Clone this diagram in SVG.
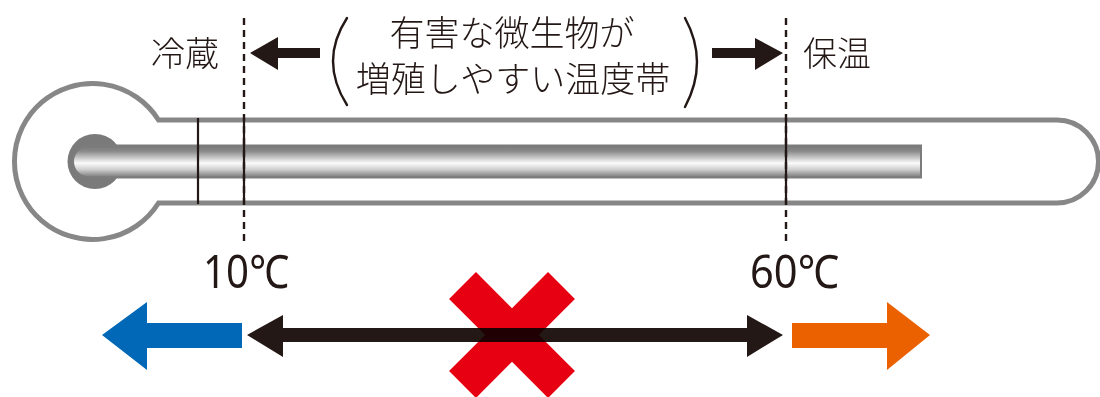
<svg xmlns="http://www.w3.org/2000/svg" width="1100" height="397" viewBox="0 0 1100 397">
  <style>
    .lbl { font-family: "Noto Sans CJK JP", "Noto Sans", sans-serif; font-weight: 300; fill: #231815; }
    .num { font-family: "Noto Sans", "Noto Sans CJK JP", sans-serif; fill: #231815; }
    .ink { fill: #231815; }
    .vline { stroke: #231815; stroke-width: 2.2; fill: none; }
    .dash { stroke-dasharray: 7 5; stroke-width: 2.4; }
    .paren { stroke: #231815; stroke-width: 2.4; fill: none; stroke-linecap: round; }
  </style>
  <defs>
    <linearGradient id="mercury" x1="0" y1="0" x2="0" y2="1">
      <stop offset="0" stop-color="#767676"/>
      <stop offset="0.18" stop-color="#8a8a8a"/>
      <stop offset="0.55" stop-color="#fbfbfb"/>
      <stop offset="0.75" stop-color="#cfcfcf"/>
      <stop offset="1" stop-color="#767676"/>
    </linearGradient>
  </defs>

  <!-- thermometer body -->
  <g id="thermometer">
    <path d="M 158.5,120 H 1057 A 41.5 41.5 0 0 1 1057,203 H 158.5 A 78 78 0 1 1 158.5,120 Z"
          fill="#ffffff" stroke="#878787" stroke-width="5"/>
    <circle cx="95" cy="161.5" r="27.5" fill="#7a7a7a"/>
    <path d="M 89,145.5 H 921 V 177.5 H 89 A 16 16 0 0 1 89,145.5 Z"
          fill="url(#mercury)" stroke="#7c7c7c" stroke-width="2"/>
    <line class="vline" x1="198" y1="118" x2="198" y2="204"/>
  </g>

  <!-- temperature boundaries -->
  <g id="boundary-10">
    <line class="vline dash" x1="244" y1="18" x2="244" y2="246"/>
    <line class="vline" x1="244" y1="118" x2="244" y2="204"/>
    <text class="num" x="203" y="288" font-size="46" textLength="86" lengthAdjust="spacingAndGlyphs">10℃</text>
  </g>
  <g id="boundary-60">
    <line class="vline dash" x1="786" y1="18" x2="786" y2="246"/>
    <line class="vline" x1="786" y1="118" x2="786" y2="204"/>
    <text class="num" x="750" y="288" font-size="46" textLength="89" lengthAdjust="spacingAndGlyphs">60℃</text>
  </g>

  <!-- zone labels -->
  <g id="label-cold">
    <text class="lbl" x="151" y="66" font-size="34">冷蔵</text>
  </g>
  <g id="label-danger">
    <path class="paren" d="M 347,18 Q 319,61 347,105"/>
    <path class="paren" d="M 685,18 Q 709,62 685,107"/>
    <text class="lbl" x="512" y="46" font-size="35" text-anchor="middle">有害な微生物が</text>
    <text class="lbl" x="513" y="92" font-size="35" text-anchor="middle">増殖しやすい温度帯</text>
  </g>
  <g id="label-warm">
    <text class="lbl" x="803" y="66" font-size="34">保温</text>
  </g>

  <!-- arrows -->
  <g id="connectors">
    <polygon class="ink" points="250,53 278,37 278,48 320,48 320,58 278,58 278,70"/>
    <polygon class="ink" points="783,53 755,38 755,48 712,48 712,58 755,58 755,70"/>
    <polygon fill="#0068b7" points="102,335 147,302 147,323 242,323 242,348 147,348 147,370"/>
    <polygon class="ink" points="247,335 283,315 283,328 747,328 747,315 783,335 747,357 747,342 283,342 283,357"/>
    <polygon fill="#eb6100" points="930,335 887,302 887,323 792,323 792,348 887,348 887,370"/>
  </g>

  <!-- prohibition mark -->
  <g id="cross" transform="translate(512,335)" fill="#e60012" style="mix-blend-mode:multiply">
    <rect x="-70" y="-19" width="140" height="38" transform="rotate(45)"/>
    <rect x="-70" y="-19" width="140" height="38" transform="rotate(-45)"/>
  </g>
</svg>
